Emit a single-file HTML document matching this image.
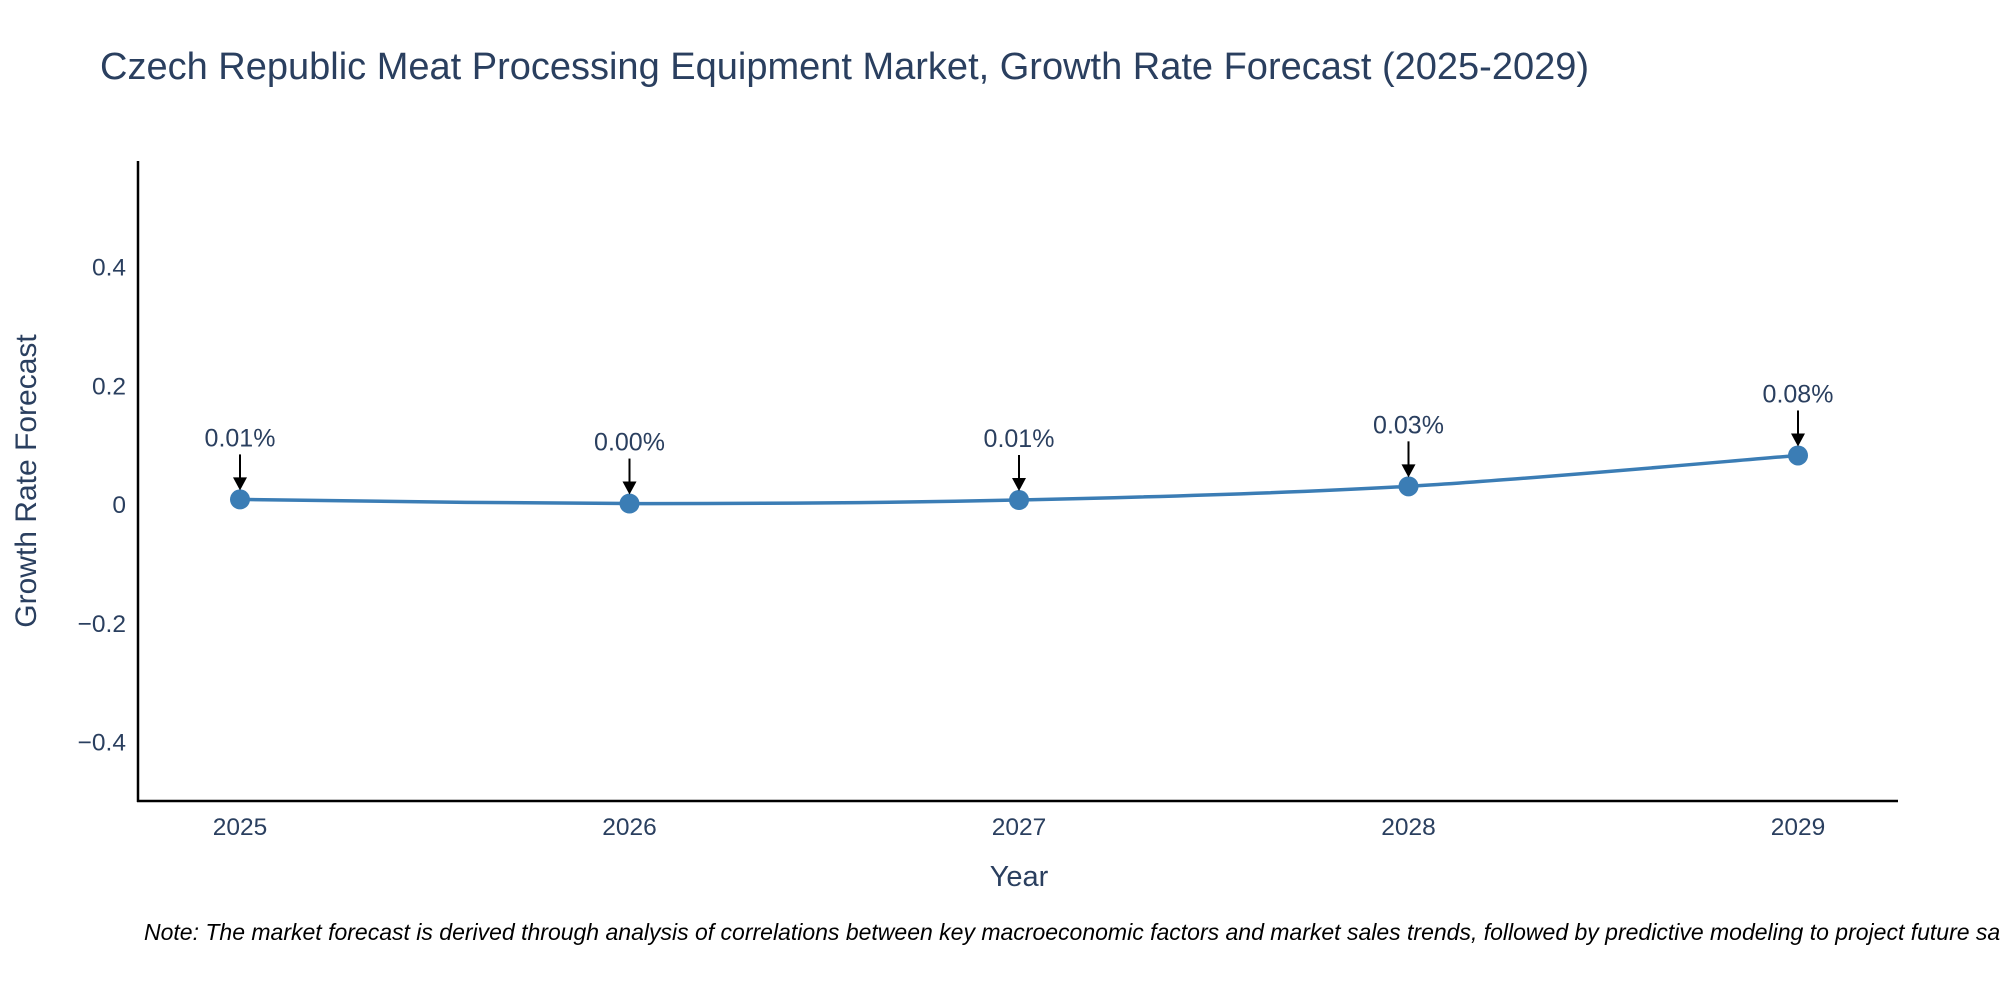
<!DOCTYPE html>
<html><head><meta charset="utf-8"><style>
html,body{margin:0;padding:0;background:#fff;}
svg{display:block;font-family:"Liberation Sans",sans-serif;}
</style></head><body>
<svg id="chart" width="2000" height="1000" viewBox="0 0 2000 1000">
<text x="100" y="79" font-size="38" fill="#2a3f5f">Czech Republic Meat Processing Equipment Market, Growth Rate Forecast (2025-2029)</text>
<g id="yticks"></g><g id="xticks"></g>
<line x1="138" y1="161" x2="138" y2="802" stroke="#000" stroke-width="2.5"/>
<line x1="137" y1="801" x2="1898" y2="801" stroke="#000" stroke-width="2.5"/>
<text x="0" y="0" transform="translate(36,481) rotate(-90)" text-anchor="middle" font-size="30" fill="#2a3f5f">Growth Rate Forecast</text>
<text x="1019" y="886" text-anchor="middle" font-size="29" fill="#2a3f5f">Year</text>
<g id="series"></g>
<text x="144" y="940" font-size="23" font-style="italic" fill="#000">Note: The market forecast is derived through analysis of correlations between key macroeconomic factors and market sales trends, followed by predictive modeling to project future sales.</text>
</svg>
<script>
const years = ["2025","2026","2027","2028","2029"];
const values = [0.008, 0.001, 0.007, 0.03, 0.082];
const labels = ["0.01%","0.00%","0.01%","0.03%","0.08%"];
const yTicks = [-0.4,-0.2,0,0.2,0.4];
const yTickLabels = ["\u22120.4","\u22120.2","0","0.2","0.4"];

const NS="http://www.w3.org/2000/svg";
const yMin=-0.5, yMax=0.578, plotTop=161, plotBottom=801;
function yScale(v){return plotBottom-(v-yMin)/(yMax-yMin)*(plotBottom-plotTop);}
function xScale(i){return 240+i*(1798-240)/(years.length-1);}
function mk(tag,attrs,parent,text){const e=document.createElementNS(NS,tag);for(const k in attrs)e.setAttribute(k,attrs[k]);if(text!=null)e.textContent=text;parent.appendChild(e);return e;}
const yt=document.getElementById('yticks');
yTicks.forEach((t,i)=>{const e=mk('text',{x:126,y:yScale(t)+9,'text-anchor':'end','font-size':24.5,fill:'#2a3f5f'},yt,yTickLabels[i]);

});
const xt=document.getElementById('xticks');
years.forEach((yr,i)=>{const e=mk('text',{x:xScale(i),y:835,'text-anchor':'middle','font-size':24.5,fill:'#2a3f5f'},xt,yr);

});
const s=document.getElementById('series');
const pts=values.map((v,i)=>[xScale(i),yScale(v)]);
let d=`M${pts[0][0]},${pts[0][1]}`;
for(let i=0;i<pts.length-1;i++){const p0=pts[Math.max(0,i-1)],p1=pts[i],p2=pts[i+1],p3=pts[Math.min(pts.length-1,i+2)];const k=0.15;
d+=` C${p1[0]+(p2[0]-p0[0])*k},${p1[1]+(p2[1]-p0[1])*k} ${p2[0]-(p3[0]-p1[0])*k},${p2[1]-(p3[1]-p1[1])*k} ${p2[0]},${p2[1]}`;}
const line=mk('path',{d:d,fill:'none',stroke:'#3b7db5','stroke-width':3.5},s);


pts.forEach((p,i)=>{
const c=mk('circle',{cx:p[0],cy:p[1],r:10,fill:'#3b7db5'},s);


const a=mk('line',{x1:p[0],y1:p[1]-45,x2:p[0],y2:p[1]-20,stroke:'#000','stroke-width':2},s);


const h=mk('polygon',{points:`${p[0]-7},${p[1]-22} ${p[0]+7},${p[1]-22} ${p[0]},${p[1]-9}`,fill:'#000'},s);


const t=mk('text',{x:p[0],y:p[1]-53,'text-anchor':'middle','font-size':25,fill:'#2a3f5f'},s,labels[i]);


});
</script>
</body></html>
